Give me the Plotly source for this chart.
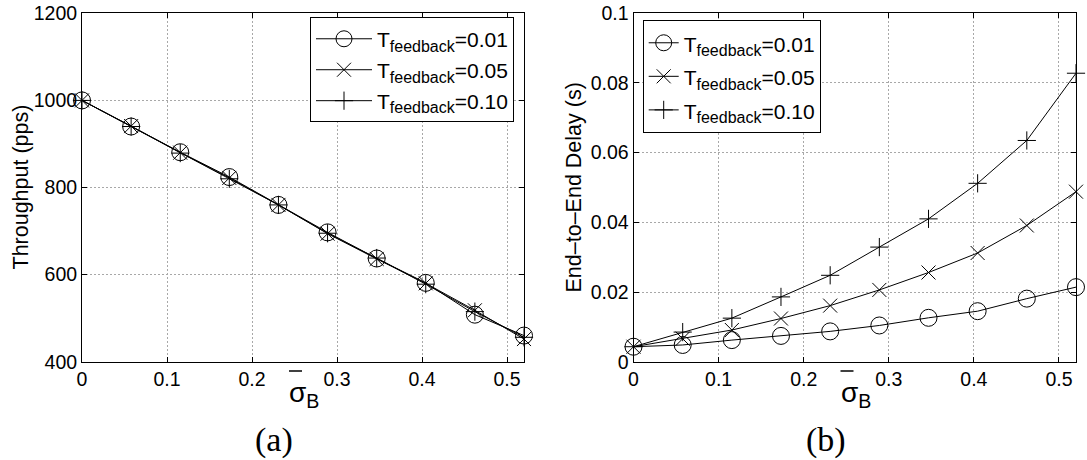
import plotly.graph_objects as go

# sigma_B sample points shared by both panels
sigma_b = [0, 0.0578, 0.1156, 0.1733, 0.2311, 0.2889, 0.3467, 0.4044, 0.4622, 0.52]

# Panel (a): throughput in packets per second
thr_001 = [1000, 940, 881, 824, 760, 697, 637, 581, 508, 460]
thr_005 = [1000, 941, 880, 822, 760, 694, 636, 580, 518, 452]
thr_010 = [1000, 940, 879, 820, 760, 695, 638, 578, 515, 456]

# Panel (b): end-to-end delay in seconds
dly_001 = [0.0043, 0.0048, 0.0062, 0.0074, 0.0087, 0.0104, 0.0126, 0.0145, 0.0181, 0.0214]
dly_005 = [0.0043, 0.0066, 0.0091, 0.0124, 0.0161, 0.0206, 0.0256, 0.0312, 0.0391, 0.0488]
dly_010 = [0.0043, 0.0085, 0.0125, 0.0186, 0.0248, 0.0329, 0.0410, 0.0512, 0.0635, 0.0828]

feedback_values = ["0.01", "0.05", "0.10"]
symbols = ["circle-open", "x-thin-open", "cross-thin-open"]
sizes = [17, 14, 13]

W, H = 1087, 460
FONT = "Liberation Sans, Arial, Helvetica, sans-serif"

# pixel frames of the two panels
L_X0, L_X1 = 82, 524
R_X0, R_X1 = 633.5, 1076
Y_TOP, Y_BOT = 13.3, 361.7


def px(x):
    return x / W


def py(y):
    return 1 - y / H


def legend_label(val):
    return ('<span style="font-size:21px">T<sub><span style="font-size:16px">feedback'
            '</span></sub>=' + val + '</span>')


fig = go.Figure()

for val, ys, sym, sz in zip(feedback_values, [thr_001, thr_005, thr_010], symbols, sizes):
    fig.add_trace(go.Scatter(
        x=sigma_b, y=ys, mode="lines+markers", name=legend_label(val),
        line=dict(color="black", width=1), cliponaxis=False,
        marker=dict(symbol=sym, size=sz, color="black", line=dict(color="black", width=1)),
        xaxis="x", yaxis="y", legend="legend",
    ))

for val, ys, sym, sz in zip(feedback_values, [dly_001, dly_005, dly_010], symbols, sizes):
    fig.add_trace(go.Scatter(
        x=sigma_b, y=ys, mode="lines+markers", name=legend_label(val),
        line=dict(color="black", width=1), cliponaxis=False,
        marker=dict(symbol=sym, size=sz, color="black", line=dict(color="black", width=1)),
        xaxis="x2", yaxis="y2", legend="legend2",
    ))

axis_common = dict(
    showline=True, linecolor="black", linewidth=1, mirror="ticks",
    ticks="inside", ticklen=5, tickcolor="black", tickwidth=1,
    showgrid=True, gridcolor="#a8a8a8", gridwidth=1, griddash="2px,2px",
    zeroline=False, tickfont=dict(family=FONT, size=19.5, color="black"),
    automargin=False,
)

xticks = [0, 0.1, 0.2, 0.3, 0.4, 0.5]

fig.update_layout(
    width=W, height=H, autosize=False,
    margin=dict(l=0, r=0, t=0, b=0),
    paper_bgcolor="white", plot_bgcolor="white",
    font=dict(family=FONT, color="black"),
    xaxis=dict(domain=[px(L_X0), px(L_X1)], range=[0, 0.52], tickvals=xticks,
               anchor="y", **axis_common),
    yaxis=dict(domain=[py(Y_BOT), py(Y_TOP)], range=[400, 1200],
               tickvals=[400, 600, 800, 1000, 1200], anchor="x", **axis_common),
    xaxis2=dict(domain=[px(R_X0), px(R_X1)], range=[0, 0.52], tickvals=xticks,
                anchor="y2", **axis_common),
    yaxis2=dict(domain=[py(Y_BOT), py(Y_TOP)], range=[0, 0.1],
                tickvals=[0, 0.02, 0.04, 0.06, 0.08, 0.1],
                ticktext=["0", "0.02", "0.04", "0.06", "0.08", "0.1"],
                anchor="x2", **axis_common),
    legend=dict(x=px(310), y=py(17.3), xanchor="left", yanchor="top",
                bgcolor="white", bordercolor="black", borderwidth=1,
                font=dict(family=FONT, size=21.5, color="black"), itemwidth=56,
                tracegroupgap=0),
    legend2=dict(x=px(642.7), y=py(20), xanchor="left", yanchor="top",
                 bgcolor="white", bordercolor="black", borderwidth=1,
                 font=dict(family=FONT, size=23.5, color="black"),
                 tracegroupgap=0),
    showlegend=True,
)

annotations = []
# y-axis titles
annotations.append(dict(text="Throughput (pps)", x=px(21), y=py((Y_TOP + Y_BOT) / 2),
                        xref="paper", yref="paper", textangle=-90, showarrow=False,
                        xanchor="center", yanchor="middle",
                        font=dict(family=FONT, size=21.5, color="black")))
annotations.append(dict(text="End\u2013to\u2013End Delay (s)", x=px(574), y=py((Y_TOP + Y_BOT) / 2),
                        xref="paper", yref="paper", textangle=-90, showarrow=False,
                        xanchor="center", yanchor="middle",
                        font=dict(family=FONT, size=21.5, color="black")))

# x-axis titles (sigma with overbar, subscript B) and panel captions
shapes = []
for x0, cap in [(L_X0, "(a)"), (R_X0, "(b)")]:
    sx = x0 + 205
    annotations.append(dict(text="\u03c3<sub>B</sub>", x=px(sx), y=py(375),
                            xref="paper", yref="paper", showarrow=False,
                            xanchor="left", yanchor="top",
                            font=dict(family=FONT, size=28, color="black")))
    shapes.append(dict(type="line", xref="paper", yref="paper",
                       x0=px(sx + 2), x1=px(sx + 15), y0=py(371), y1=py(371),
                       line=dict(color="black", width=1.5)))
    annotations.append(dict(text=cap, x=px(x0 + 192), y=py(440),
                            xref="paper", yref="paper", showarrow=False,
                            xanchor="center", yanchor="middle",
                            font=dict(family="Liberation Serif, Times New Roman, serif",
                                      size=34, color="black")))

fig.update_layout(annotations=annotations, shapes=shapes)

fig.write_html("out.html")
